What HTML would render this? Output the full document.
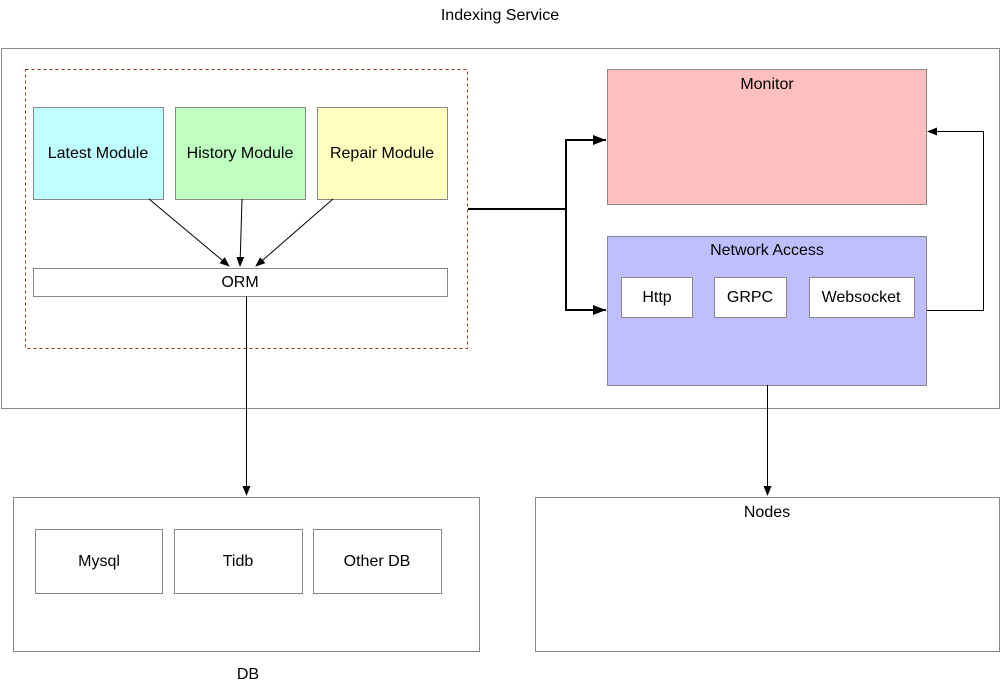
<!DOCTYPE html>
<html><head><style>body{margin:0;background:#fff}svg{display:block}text{font-family:"Liberation Sans",Arial,sans-serif;font-size:16px;fill:#000}</style></head><body>
<svg width="1001" height="688" xmlns="http://www.w3.org/2000/svg">
<defs>
<marker id="a" markerWidth="10" markerHeight="10" refX="9" refY="5" orient="auto" markerUnits="userSpaceOnUse"><path d="M0,1 L10,5 L0,9 Z" fill="#000"/></marker>
<marker id="b" markerWidth="14" markerHeight="12" refX="13" refY="6" orient="auto" markerUnits="userSpaceOnUse"><path d="M0,1 L13,6 L0,11 Z" fill="#000"/></marker>
</defs>
<text x="500" y="20" text-anchor="middle">Indexing Service</text>
<rect x="1.5" y="48.5" width="998" height="360" fill="#fff" stroke="#888"/>
<rect x="25.5" y="69.5" width="442" height="279" fill="none" stroke="#8b3a1a" stroke-dasharray="3,3"/>
<rect x="33.5" y="107.5" width="130" height="92" fill="#bfffff" stroke="#888"/>
<rect x="175.5" y="107.5" width="130" height="92" fill="#bfffbf" stroke="#888"/>
<rect x="317.5" y="107.5" width="130" height="92" fill="#ffffbf" stroke="#888"/>
<text x="98" y="158" text-anchor="middle">Latest Module</text>
<text x="240" y="158" text-anchor="middle">History Module</text>
<text x="382" y="158" text-anchor="middle">Repair Module</text>
<rect x="33.5" y="268.5" width="414" height="28" fill="#fff" stroke="#888"/>
<text x="240" y="287" text-anchor="middle">ORM</text>
<line x1="149" y1="199" x2="229" y2="266" stroke="#000" marker-end="url(#a)"/>
<line x1="242" y1="199" x2="240" y2="266" stroke="#000" marker-end="url(#a)"/>
<line x1="333" y1="199" x2="256" y2="266" stroke="#000" marker-end="url(#a)"/>
<line x1="246.5" y1="296" x2="246.5" y2="495" stroke="#000" marker-end="url(#a)"/>
<rect x="607.5" y="69.5" width="319" height="135" fill="#ffbfbf" stroke="#888"/>
<text x="767" y="89" text-anchor="middle">Monitor</text>
<rect x="607.5" y="236.5" width="319" height="149" fill="#bfbfff" stroke="#888"/>
<text x="767" y="255" text-anchor="middle">Network Access</text>
<rect x="621.5" y="277.5" width="71" height="40" fill="#fff" stroke="#888"/>
<rect x="714.5" y="277.5" width="72" height="40" fill="#fff" stroke="#888"/>
<rect x="809.5" y="277.5" width="105" height="40" fill="#fff" stroke="#888"/>
<text x="657" y="302" text-anchor="middle">Http</text>
<text x="750" y="302" text-anchor="middle">GRPC</text>
<text x="861" y="302" text-anchor="middle">Websocket</text>
<polyline points="468,209 566,209 566,140 606,140" fill="none" stroke="#000" stroke-width="2" marker-end="url(#b)"/>
<polyline points="566,209 566,310 606,310" fill="none" stroke="#000" stroke-width="2" marker-end="url(#b)"/>
<polyline points="927,310.5 983.5,310.5 983.5,131.5 928,131.5" fill="none" stroke="#000" marker-end="url(#a)"/>
<line x1="767.5" y1="385" x2="767.5" y2="495" stroke="#000" marker-end="url(#a)"/>
<rect x="13.5" y="497.5" width="466" height="154" fill="#fff" stroke="#888"/>
<rect x="35.5" y="529.5" width="127" height="64" fill="#fff" stroke="#888"/>
<rect x="174.5" y="529.5" width="128" height="64" fill="#fff" stroke="#888"/>
<rect x="313.5" y="529.5" width="128" height="64" fill="#fff" stroke="#888"/>
<text x="99" y="566" text-anchor="middle">Mysql</text>
<text x="238" y="566" text-anchor="middle">Tidb</text>
<text x="377" y="566" text-anchor="middle">Other DB</text>
<rect x="535.5" y="497.5" width="464" height="154" fill="#fff" stroke="#888"/>
<text x="767" y="517" text-anchor="middle">Nodes</text>
<text x="248" y="679" text-anchor="middle">DB</text>
</svg>
</body></html>
